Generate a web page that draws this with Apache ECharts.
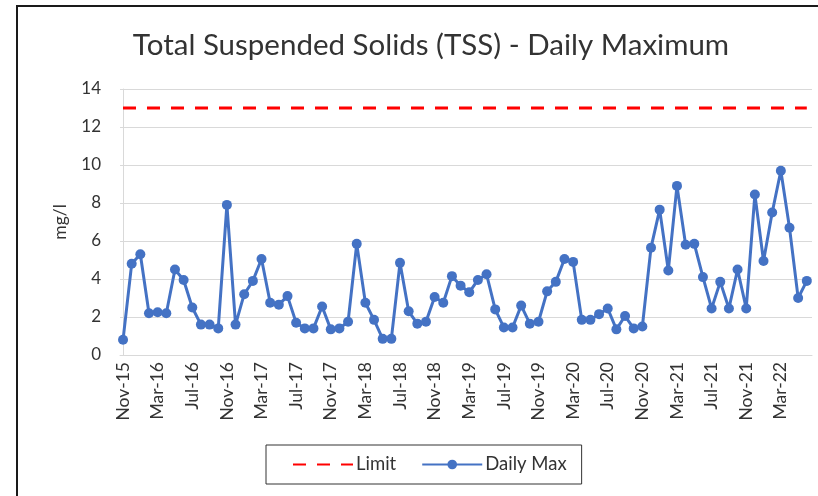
<!DOCTYPE html>
<html>
<head>
<meta charset="utf-8">
<script src="https://cdn.jsdelivr.net/npm/echarts@6/dist/echarts.min.js"></script>
<style>
  html, body { margin: 0; padding: 0; background: #fff; }
  #chart { width: 818px; height: 496px; }
</style>
</head>
<body>
<div id="chart"></div>
<script>
// monthly categories, Nov-15 .. Jun-22
const months = [
  'Nov-15', 'Dec-15',
  'Jan-16', 'Feb-16', 'Mar-16', 'Apr-16', 'May-16', 'Jun-16', 'Jul-16', 'Aug-16', 'Sep-16', 'Oct-16', 'Nov-16', 'Dec-16',
  'Jan-17', 'Feb-17', 'Mar-17', 'Apr-17', 'May-17', 'Jun-17', 'Jul-17', 'Aug-17', 'Sep-17', 'Oct-17', 'Nov-17', 'Dec-17',
  'Jan-18', 'Feb-18', 'Mar-18', 'Apr-18', 'May-18', 'Jun-18', 'Jul-18', 'Aug-18', 'Sep-18', 'Oct-18', 'Nov-18', 'Dec-18',
  'Jan-19', 'Feb-19', 'Mar-19', 'Apr-19', 'May-19', 'Jun-19', 'Jul-19', 'Aug-19', 'Sep-19', 'Oct-19', 'Nov-19', 'Dec-19',
  'Jan-20', 'Feb-20', 'Mar-20', 'Apr-20', 'May-20', 'Jun-20', 'Jul-20', 'Aug-20', 'Sep-20', 'Oct-20', 'Nov-20', 'Dec-20',
  'Jan-21', 'Feb-21', 'Mar-21', 'Apr-21', 'May-21', 'Jun-21', 'Jul-21', 'Aug-21', 'Sep-21', 'Oct-21', 'Nov-21', 'Dec-21',
  'Jan-22', 'Feb-22', 'Mar-22', 'Apr-22', 'May-22', 'Jun-22'
];
// labels shown on the x axis
const tickMonths = ['Nov-15', 'Mar-16', 'Jul-16', 'Nov-16', 'Mar-17', 'Jul-17', 'Nov-17', 'Mar-18', 'Jul-18', 'Nov-18',
  'Mar-19', 'Jul-19', 'Nov-19', 'Mar-20', 'Jul-20', 'Nov-20', 'Mar-21', 'Jul-21', 'Nov-21', 'Mar-22'];

const dailyMax = [
  0.8, 4.8,
  5.3, 2.2, 2.25, 2.2, 4.5, 3.95, 2.5, 1.6, 1.6, 1.4, 7.9, 1.6,
  3.2, 3.9, 5.05, 2.75, 2.65, 3.1, 1.7, 1.4, 1.4, 2.55, 1.35, 1.4,
  1.75, 5.85, 2.75, 1.85, 0.85, 0.85, 4.85, 2.3, 1.65, 1.75, 3.05, 2.75,
  4.15, 3.65, 3.3, 3.95, 4.25, 2.4, 1.45, 1.45, 2.6, 1.65, 1.75, 3.35,
  3.85, 5.05, 4.9, 1.85, 1.85, 2.15, 2.45, 1.35, 2.05, 1.4, 1.5, 5.65,
  7.65, 4.45, 8.9, 5.8, 5.85, 4.1, 2.45, 3.85, 2.45, 4.5, 2.45, 8.45,
  4.95, 7.5, 9.7, 6.7, 3.0, 3.9
];
const limit = [
  13, 13,
  13, 13, 13, 13, 13, 13, 13, 13, 13, 13, 13, 13,
  13, 13, 13, 13, 13, 13, 13, 13, 13, 13, 13, 13,
  13, 13, 13, 13, 13, 13, 13, 13, 13, 13, 13, 13,
  13, 13, 13, 13, 13, 13, 13, 13, 13, 13, 13, 13,
  13, 13, 13, 13, 13, 13, 13, 13, 13, 13, 13, 13,
  13, 13, 13, 13, 13, 13, 13, 13, 13, 13, 13, 13,
  13, 13, 13, 13, 13, 13
];
const yTicks = [0, 2, 4, 6, 8, 10, 12, 14];

const FONT = 'Lato';
const TXT = '#333';

const chart = echarts.init(document.getElementById('chart'), null, { renderer: 'canvas' });

const option = {
  animation: false,
  backgroundColor: '#fff',
  textStyle: { fontFamily: FONT },
  title: {
    text: 'Total Suspended Solids (TSS) - Daily Maximum',
    left: 426,
    textAlign: 'center',
    top: 25,
    textStyle: { fontFamily: FONT, fontSize: 29.5, fontWeight: 'normal', color: TXT }
  },
  graphic: [{
    type: 'rect',
    silent: true,
    shape: { x: 17, y: 6, width: 1000, height: 1000 },
    style: { fill: 'none', stroke: '#1a1a1a', lineWidth: 2 }
  }],
  legend: {
    left: 266,
    top: 445,
    padding: [10, 15, 10, 26],
    itemGap: 25,
    itemWidth: 60,
    itemHeight: 12,
    borderColor: '#333',
    borderWidth: 1,
    textStyle: { fontFamily: FONT, fontSize: 18.5, color: TXT, padding: [0, 0, 0, -2] },
    data: [
      { name: 'Limit', itemStyle: { opacity: 0 } },
      { name: 'Daily Max' }
    ]
  },
  grid: { left: 120, right: 6, top: 89, bottom: 141 },
  xAxis: {
    type: 'value',
    min: -0.35,
    max: 79.6,
    splitLine: { show: false },
    axisTick: { show: false },
    axisLine: { show: true, lineStyle: { color: '#d9d9d9', width: 1 } },
    axisLabel: {
      customValues: tickMonths.map(m => months.indexOf(m)),
      formatter: v => months[Math.round(v)],
      rotate: 90,
      margin: 7,
      fontFamily: FONT,
      fontSize: 17.5,
      color: TXT
    }
  },
  yAxis: {
    type: 'value',
    min: yTicks[0],
    max: yTicks[yTicks.length - 1],
    interval: 2,
    name: 'mg/l',
    nameLocation: 'middle',
    nameGap: 51,
    nameTextStyle: { fontFamily: FONT, fontSize: 17.5, color: TXT },
    axisLine: { show: true, lineStyle: { color: '#d9d9d9', width: 1 } },
    axisTick: { show: false },
    splitLine: { lineStyle: { color: '#d9d9d9', width: 1 } },
    axisLabel: { fontFamily: FONT, fontSize: 17, color: TXT, margin: 19 }
  },
  series: [
    {
      name: 'Limit',
      type: 'line',
      symbol: 'none',
      data: limit.map((v, i) => [i, v]),
      color: '#ff0000',
      lineStyle: { color: '#ff0000', width: 3, type: [13, 11] },
      z: 1
    },
    {
      name: 'Daily Max',
      type: 'line',
      symbol: 'circle',
      symbolSize: 10,
      data: dailyMax.map((v, i) => [i, v]),
      color: '#4472c4',
      itemStyle: { color: '#4472c4' },
      lineStyle: { color: '#4472c4', width: 3 },
      z: 2
    }
  ]
};

chart.setOption(option);
</script>
</body>
</html>
